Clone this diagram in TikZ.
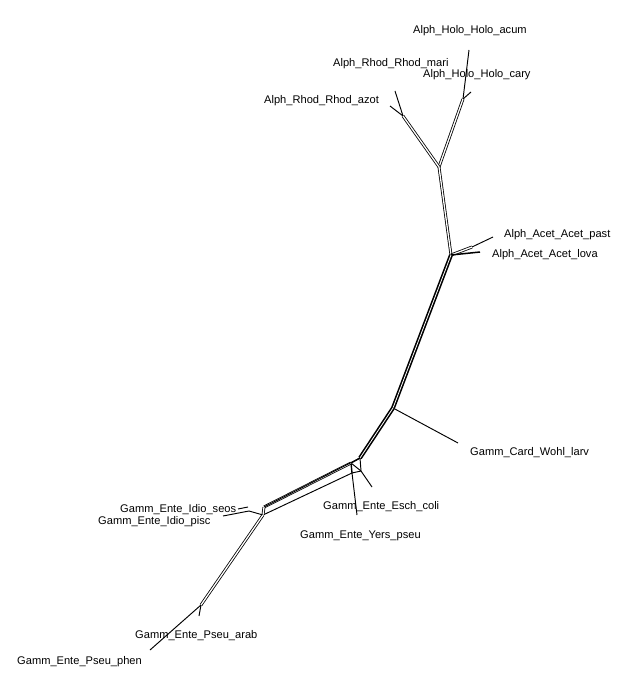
\documentclass[tikz,border=0pt]{standalone}
\usepackage{fontspec}
\setmainfont{Liberation Sans}
\begin{document}
\begin{tikzpicture}[x=1pt,y=-1pt,
  edge/.style={draw=black,line width=0.95pt},
  pair/.style={draw=black,double=white,line width=0.8pt,double distance=1.3pt},
  trunk/.style={draw=black,double=white,line width=1.6pt,double distance=0.8pt},
  taxon/.style={anchor=base west,inner sep=0pt,font=\fontsize{11.1}{13}\selectfont}]
\useasboundingbox (0,0) rectangle (643,700);

% network vertices
\coordinate (aC) at (439,167);
\coordinate (hN) at (463,99);
\coordinate (rN) at (403,116);
\coordinate (acN) at (451,255);
\coordinate (acT) at (472,247);
\coordinate (cN) at (393,408);
\coordinate (gK) at (360,458);
\coordinate (k1) at (351,463);
\coordinate (k3) at (361,471);
\coordinate (k4) at (352,473);
\coordinate (iN) at (264,507);
\coordinate (iS) at (248,507);
\coordinate (iL) at (263,515);
\coordinate (iP) at (249,511);
\coordinate (pN) at (201,605);

% leaf ends
\coordinate (lAcum) at (469,50);
\coordinate (lCary) at (471,92);
\coordinate (lMari) at (395,91);
\coordinate (lAzot) at (390,106);
\coordinate (lPast) at (493,237);
\coordinate (lLova) at (480,252);
\coordinate (lCard) at (458,443);
\coordinate (lColi) at (372,487);
\coordinate (lYers) at (357,515);
\coordinate (lSeos) at (238,509);
\coordinate (lPisc) at (223,516);
\coordinate (lArab) at (199,616);
\coordinate (lPhen) at (150,650);

% Alphaproteobacteria part
\draw[pair] (aC) -- (hN);
\draw[edge] (hN) -- (lAcum);
\draw[edge] (hN) -- (lCary);
\draw[pair] (aC) -- (rN);
\draw[edge] (rN) -- (lMari);
\draw[edge] (rN) -- (lAzot);
\draw[pair] (aC) -- (acN);
\draw[pair] (acN) -- (acT);
\draw[edge] (acT) -- (lPast);
\draw[edge,line width=1.5pt] (acN) -- (lLova);

% central trunk
\draw[trunk] (acN) -- (cN);
\draw[edge] (cN) -- (lCard);
\draw[trunk] (cN) -- (gK);

% Enterobacteria knot
\draw[edge,line width=1.4pt] (gK) -- (k1) -- (k4);
\draw[edge] (gK) -- (k3) -- (k4);
\draw[edge] (k1) -- (k3);
\draw[edge] (k3) -- (lColi);
\draw[edge] (k4) -- (lYers);

% Idiomarina and Pseudomonas part
\draw[pair] (k1) -- (iN);
\draw[edge] (gK) -- (iN);
\draw[edge] (k4) -- (iL);
\draw[pair] (iN) -- (iS);
\draw[edge] (iS) -- (lSeos);
\draw[pair] (iN) -- (iL);
\draw[edge] (iL) -- (iP);
\draw[edge] (iP) -- (lPisc);
\draw[pair] (iL) -- (pN);
\draw[edge] (pN) -- (lArab);
\draw[edge] (pN) -- (lPhen);

% taxon labels
\node[taxon] (tAcum) at (413,34) {Alph\_Holo\_Holo\_acum};
\node[taxon] (tMari) at (333,67) {Alph\_Rhod\_Rhod\_mari};
\node[taxon] (tCary) at (423,78) {Alph\_Holo\_Holo\_cary};
\node[taxon] (tAzot) at (264,104) {Alph\_Rhod\_Rhod\_azot};
\node[taxon] (tPast) at (504,237) {Alph\_Acet\_Acet\_past};
\node[taxon] (tLova) at (492,258) {Alph\_Acet\_Acet\_lova};
\node[taxon] (tCard) at (470,455) {Gamm\_Card\_Wohl\_larv};
\node[taxon] (tColi) at (323,509) {Gamm\_Ente\_Esch\_coli};
\node[taxon] (tYers) at (300,538) {Gamm\_Ente\_Yers\_pseu};
\node[taxon] (tSeos) at (120,512) {Gamm\_Ente\_Idio\_seos};
\node[taxon] (tPisc) at (98,524) {Gamm\_Ente\_Idio\_pisc};
\node[taxon] (tArab) at (135,638) {Gamm\_Ente\_Pseu\_arab};
\node[taxon] (tPhen) at (17,664) {Gamm\_Ente\_Pseu\_phen};
\end{tikzpicture}
\end{document}
